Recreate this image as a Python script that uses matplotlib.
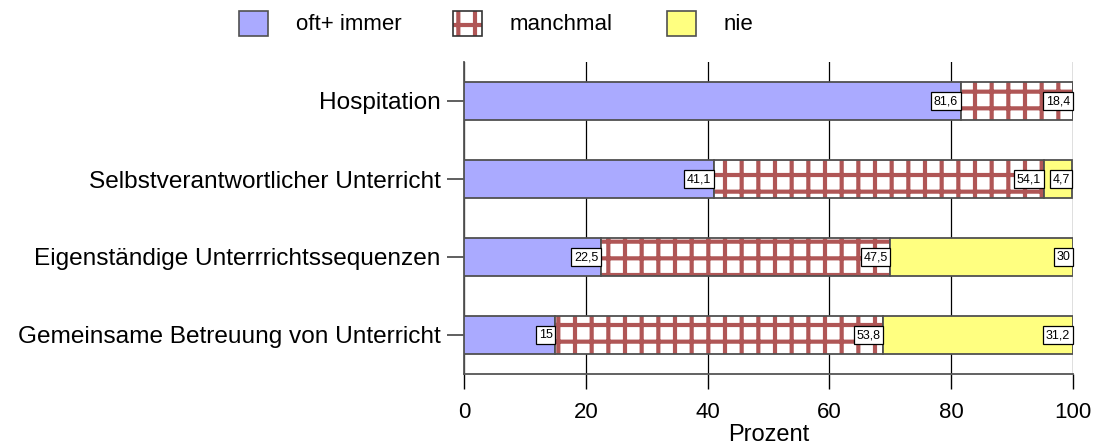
import numpy as np
import matplotlib.pyplot as plt
from matplotlib.patches import Rectangle

plt.rcParams['font.family'] = ['Liberation Sans', 'DejaVu Sans']
plt.rcParams['hatch.linewidth'] = 3.0

kategorien = ["Hospitation", "Selbstverantwortlicher Unterricht",
              "Eigenständige Unterrrichtssequenzen", "Gemeinsame Betreuung von Unterricht"]
oft_immer = [81.6, 41.1, 22.5, 15]
manchmal = [18.4, 54.1, 47.5, 53.8]
nie = [0, 4.7, 30, 31.2]
serien = ["oft+ immer", "manchmal", "nie"]
xticks = [0, 20, 40, 60, 80, 100]

W, H = 1103, 446
fig = plt.figure(figsize=(W / 100, H / 100), dpi=100)
ax = fig.add_axes([464 / W, 1 - 374 / H, 609 / W, 312 / H])

rot = '#b05656'
kante = '#505050'
stile = [dict(fc='#aaaaff', hatch=None), dict(fc='white', hatch='+'),
         dict(fc='#ffff80', hatch=None)]
werte = [oft_immer, manchmal, nie]

y = np.arange(len(kategorien))
hoehe = 0.49
links = np.zeros(len(kategorien))

for name, w, st in zip(serien, werte, stile):
    w = np.array(w)
    if st['hatch']:
        # Schraffur in Rot, Rand separat in Grau
        ax.barh(y, w, left=links, height=hoehe, color=st['fc'], hatch=st['hatch'],
                edgecolor=rot, linewidth=0, zorder=3)
        ax.barh(y, w, left=links, height=hoehe, fill=False,
                edgecolor=kante, linewidth=1.3, zorder=3)
    else:
        ax.barh(y, w, left=links, height=hoehe, color=st['fc'],
                edgecolor=kante, linewidth=1.3, zorder=3)
    for yi, l, wi in zip(y, links, w):
        if wi > 0:
            txt = f"{wi:g}".replace('.', ',')
            ax.text(l + wi - 0.45, yi, txt, ha='right', va='center', fontsize=9, zorder=5,
                    bbox=dict(boxstyle='square,pad=0.22', fc='white', ec='black', lw=0.9))
    links = links + w

ax.set_xlim(0, 100)
ax.set_ylim(len(kategorien) - 0.5, -0.5)
ax.set_yticks(y)
ax.set_yticklabels(kategorien, fontsize=17.6)
ax.set_xticks(xticks)
ax.set_xticklabels([str(t) for t in xticks], fontsize=16)
ax.set_xlabel("Prozent", fontsize=17, labelpad=1)
ax.grid(axis='x', color='black', linewidth=0.9, zorder=0)
ax.tick_params(axis='y', length=12, width=1.2, color='#444444', pad=5)
ax.tick_params(axis='x', length=11, width=1, color='black', pad=9)
for s in ['top', 'right']:
    ax.spines[s].set_visible(False)
for s in ['left', 'bottom']:
    ax.spines[s].set_color('#555555')
    ax.spines[s].set_linewidth(1.3)

# Legende oben, gleich breite Spalten
for i, (name, st) in enumerate(zip(serien, stile)):
    x0 = 239 + 214 * i
    r = Rectangle((x0 / W, 1 - 36 / H), 29 / W, 25 / H, transform=fig.transFigure,
                  facecolor=st['fc'], hatch=st['hatch'],
                  edgecolor=rot if st['hatch'] else kante, linewidth=0 if st['hatch'] else 1.2)
    fig.add_artist(r)
    if st['hatch']:
        fig.add_artist(Rectangle((x0 / W, 1 - 36 / H), 29 / W, 25 / H, transform=fig.transFigure,
                                 fill=False, edgecolor='#333333', linewidth=1.2))
    fig.text((x0 + 57) / W, 1 - 24 / H, name, ha='left', va='center', fontsize=16)

fig.savefig("out.png", dpi=100)
